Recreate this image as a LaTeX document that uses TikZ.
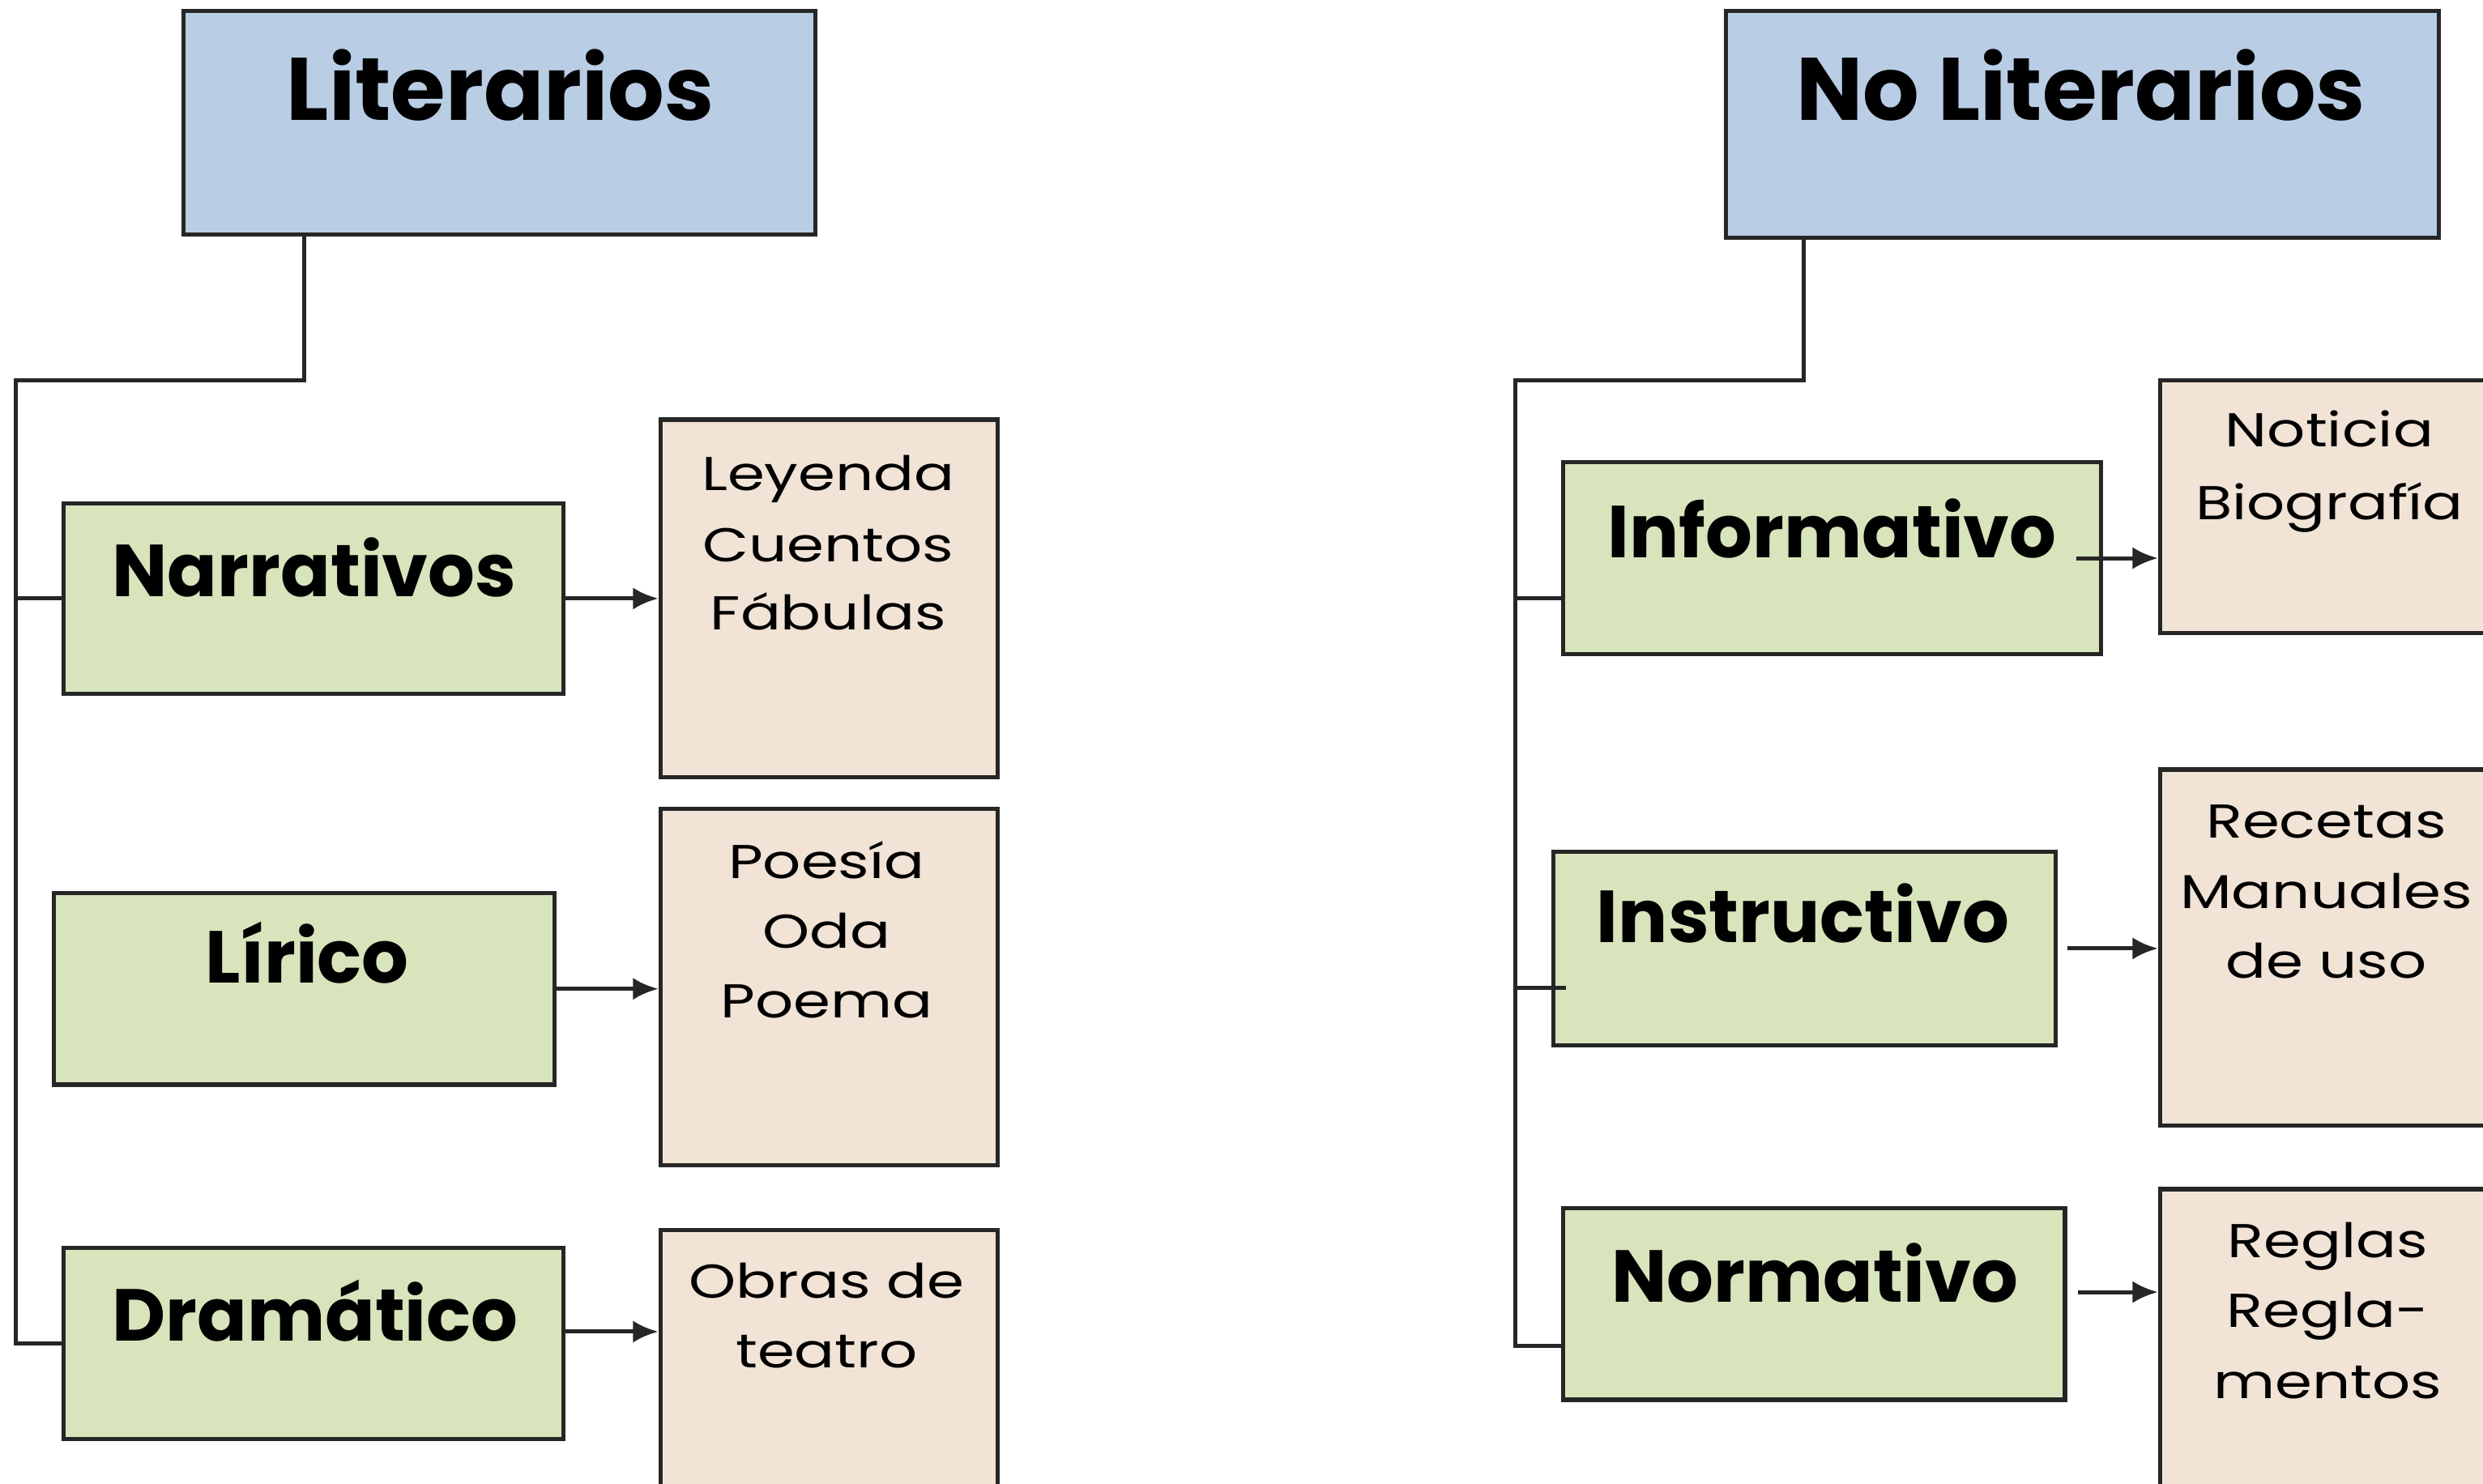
\documentclass[tikz,border=0pt]{standalone}
\usepackage{fontspec}
\setmainfont{Poppins}
\newfontfamily\bodyfont[FakeStretch=1.26]{Poppins}
\usetikzlibrary{arrows.meta}
\definecolor{hdrblue}{HTML}{B9CDE5}
\definecolor{catgreen}{HTML}{D8E4BC}
\definecolor{itemtan}{HTML}{F1E3D5}
\definecolor{linec}{HTML}{262626}
\tikzset{
  box/.style={draw=linec, line width=2.6pt, inner sep=0pt, rectangle},
  hdrbox/.style={box, fill=hdrblue},
  catbox/.style={box, fill=catgreen},
  itembox/.style={box, fill=itemtan},
  hdrtext/.style={anchor=base, inner sep=0pt, font=\fontsize{56}{60}\selectfont\bfseries},
  cattext/.style={anchor=base, inner sep=0pt, font=\fontsize{46.5}{52}\selectfont\bfseries},
  itemtext/.style={anchor=base, inner sep=0pt, font=\bodyfont\fontsize{30}{32}\selectfont},
  conn/.style={draw=linec, line width=2.6pt},
  arr/.style={conn, -{Latex[length=16pt,width=14pt]}}
}
\begin{document}
\begin{tikzpicture}[x=1pt,y=-1pt]
\useasboundingbox (0,0) rectangle (1568,937);
\fill[white] (0,0) rectangle (1568,937);
\clip (0,0) rectangle (1568,937);

% header boxes
\node[hdrbox, minimum width=399pt, minimum height=141pt] (lit) at (315.5,77.5) {};
\node[hdrtext] (lit-t) at (316,76) {Literarios};
\node[hdrbox, minimum width=450pt, minimum height=143pt] (nlit) at (1315,78.5) {};
\node[hdrtext] (nlit-t) at (1314,76) {No Literarios};

% category boxes (left)
\node[catbox, minimum width=316pt, minimum height=120pt] (nar) at (198,378) {};
\node[cattext] (nar-t) at (198.5,377) {Narrativos};
\node[catbox, minimum width=316pt, minimum height=121pt] (lir) at (192,624.5) {};
\node[cattext] (lir-t) at (194,621) {Lírico};
\node[catbox, minimum width=316pt, minimum height=121pt] (dra) at (198,848.5) {};
\node[cattext] (dra-t) at (199,847) {Dramático};

% category boxes (right)
\node[catbox, minimum width=340pt, minimum height=121pt] (inf) at (1157,352.5) {};
\node[cattext] (inf-t) at (1157,352) {Informativo};
\node[catbox, minimum width=317pt, minimum height=122pt] (ins) at (1139.5,599) {};
\node[cattext] (ins-t) at (1138.6,595) {Instructivo};
\node[catbox, minimum width=317pt, minimum height=121pt] (nor) at (1145.5,823.5) {};
\node[cattext] (nor-t) at (1146,822.6) {Normativo};

% item boxes (left)
\node[itembox, minimum width=213pt, minimum height=226pt] (ley) at (523.5,378) {};
\node[itemtext] (ley-1) at (523,310) {Leyenda};
\node[itemtext] (ley-2) at (523,355) {Cuentos};
\node[itemtext] (ley-3) at (523,398) {Fábulas};
\node[itembox, minimum width=213pt, minimum height=225pt] (poe) at (523.5,623.5) {};
\node[itemtext] (poe-1) at (522,555) {Poesía};
\node[itemtext] (poe-2) at (522,599) {Oda};
\node[itemtext] (poe-3) at (522,643) {Poema};
\node[itembox, minimum width=213pt, minimum height=186pt] (obr) at (523.5,870) {};
\node[itemtext] (obr-1) at (522,820) {Obras de};
\node[itemtext] (obr-2) at (522,864) {teatro};

% item boxes (right)
\node[itembox, minimum width=236pt, minimum height=160pt] (not) at (1482,320) {};
\node[itemtext] (not-1) at (1471,282) {Noticia};
\node[itemtext] (not-2) at (1471,328) {Biografía};
\node[itembox, minimum width=236pt, minimum height=225pt] (rec) at (1482,598.5) {};
\node[itemtext] (rec-1) at (1469,529) {Recetas};
\node[itemtext] (rec-2) at (1469,573.5) {Manuales};
\node[itemtext] (rec-3) at (1469,617.5) {de uso};
\node[itembox, minimum width=236pt, minimum height=212pt] (reg) at (1482,857) {};
\node[itemtext] (reg-1) at (1470,794) {Reglas};
\node[itemtext] (reg-2) at (1470,838) {Regla-};
\node[itemtext] (reg-3) at (1470,883) {mentos};

% tree connectors (left)
\coordinate (lT) at (192,240);
\coordinate (lB) at (10,240);
\draw[conn] (lit.south -| lT) -- (lT) -- (lB) -- (lB |- dra.west) -- (dra.west);
\draw[conn] (lB |- nar.west) -- (nar.west);

% tree connectors (right)
\coordinate (rT) at (1139,240);
\coordinate (rB) at (957,240);
\coordinate (rC) at (957,850);
\coordinate (rI) at (957,378);
\coordinate (rS) at (957,624);
\draw[conn] (nlit.south -| rT) -- (rT) -- (rB) -- (rC) -- (rC -| nor.west);
\draw[conn] (rI) -- (rI -| inf.west);
\draw[conn] (rS) -- ([xshift=9pt]rS -| ins.west);

% arrows
\draw[arr] (nar.east) -- (nar.east -| ley.west);
\draw[arr] (lir.east) -- (lir.east -| poe.west);
\coordinate (draA) at ([yshift=7.5pt]dra.east);
\draw[arr] (draA) -- (draA -| obr.west);
\coordinate (infA) at ([xshift=-17pt]inf.east);
\draw[arr] (infA) -- (infA -| not.west);
\coordinate (insA) at ([xshift=6pt]ins.east);
\draw[arr] (insA) -- (insA -| rec.west);
\coordinate (norA) at ([xshift=7pt,yshift=7.5pt]nor.east);
\draw[arr] (norA) -- (norA -| reg.west);
\end{tikzpicture}
\end{document}
